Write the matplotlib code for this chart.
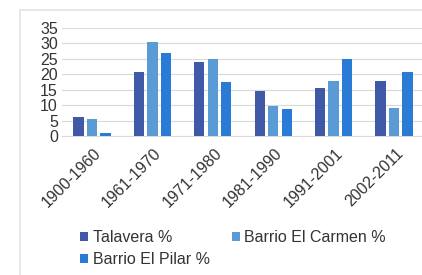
import numpy as np
import matplotlib.pyplot as plt
from matplotlib.patches import Rectangle

plt.rcParams['font.family'] = ['Liberation Sans', 'DejaVu Sans']

periods = ['1900-1960', '1961-1970', '1971-1980', '1981-1990', '1991-2001', '2002-2011']
talavera = [6.2, 20.6, 23.9, 14.6, 15.7, 17.8]
carmen = [5.6, 30.4, 24.9, 9.8, 17.9, 9.0]
pilar = [0.9, 26.9, 17.6, 8.7, 24.8, 20.6]

series_names = ['Talavera %', 'Barrio El Carmen %', 'Barrio El Pilar %']
colors = ['#4059a6', '#5b9bd5', '#2a7bd6']

fig = plt.figure(figsize=(4.22, 2.75), dpi=100)
# outer chart frame
fig.patches.append(Rectangle((20 / 422, -0.02), 1.1, 1 - 10 / 275 + 0.02,
                             transform=fig.transFigure, fill=False,
                             edgecolor='#e3e3e3', linewidth=1.2))

ax = fig.add_axes([62 / 422, 1 - 136 / 275, 360 / 422, 108 / 275])

x = np.arange(len(periods))
w = 0.17
pitch = 0.224
bars = []
for i, (vals, name, c) in enumerate(zip([talavera, carmen, pilar], series_names, colors)):
    bars.append(ax.bar(x + (i - 1) * pitch, vals, width=w, color=c, label=name, zorder=3))

ax.set_ylim(0, 35)
ax.set_yticks(range(0, 36, 5))
ax.set_xlim(-0.497, 5.463)
ax.yaxis.grid(True, color='#d9d9d9', linewidth=0.8, zorder=0)
for s in ax.spines.values():
    s.set_visible(False)
ax.spines['bottom'].set_visible(True)
ax.spines['bottom'].set_color('#d9d9d9')
ax.tick_params(axis='both', length=0, labelsize=11.5, colors='#333333', pad=3)
ax.set_xticks(x + 0.02)
ax.set_xticklabels(periods, rotation=45, ha='right', rotation_mode='anchor')
ax.tick_params(axis='x', pad=7)

# row-wise legend order: Talavera, Carmen / Pilar
order = [0, 2, 1]
fig.legend([bars[k] for k in order], [series_names[k] for k in order], ncol=2,
           loc='upper left', bbox_to_anchor=(66 / 422, 1 - 216 / 275),
           frameon=False, fontsize=11.5, handlelength=0.5, handleheight=0.5,
           handletextpad=0.3, columnspacing=1.35, labelspacing=0.4, labelcolor='#333333')

fig.savefig('out.png', dpi=100)
